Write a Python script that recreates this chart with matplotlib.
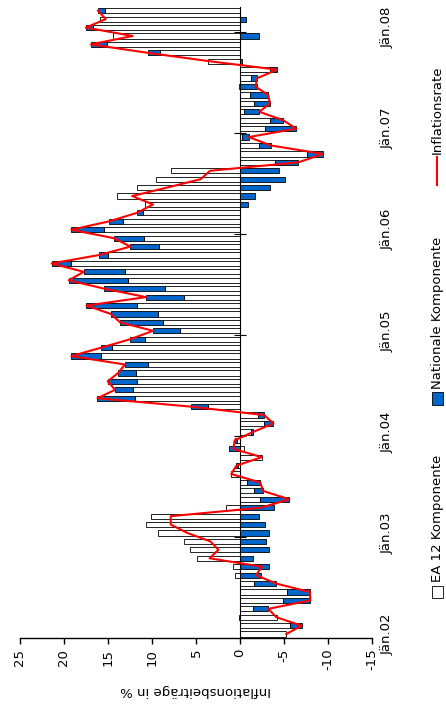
import matplotlib
matplotlib.use("Agg")
import matplotlib.pyplot as plt
import numpy as np
from matplotlib.transforms import blended_transform_factory
from matplotlib.patches import Rectangle
from matplotlib.lines import Line2D

plt.rcParams['font.family'] = ['DejaVu Sans']

# ---- data (monthly, Jän.02 .. Mär.08) ----
year_labels = ["Jän.02", "Jän.03", "Jän.04", "Jän.05", "Jän.06", "Jän.07", "Jän.08"]

ea12 = [-5.26, -5.68, -4.24, -1.48, -4.9, -5.37, -1.6, 0.57, 0.8, 4.9, 5.7, 6.36,
        9.27, 10.67, 10.06, 1.55, -2.27, -1.6, -0.83, 1.0, 0.2, -2.46, -0.45, 0.3,
        -1.3, -2.7, -2.0, 3.6, 11.9, 12.15, 11.7, 11.77, 10.5, 15.8, 14.57, 10.75,
        6.77, 8.74, 9.3, 11.7, 6.4, 8.48, 12.7, 13.05, 19.2, 15.0, 9.2, 10.9,
        15.4, 13.3, 11.0, 10.78, 13.96, 11.7, 9.57, 7.83, -3.93, -7.64, -2.16, -0.2,
        -2.84, -3.4, -0.4, -1.6, -1.13, 0.15, -1.29, -3.4, 3.63, 9.04, 15.06, 14.4,
        16.65, 15.9, 15.3]

national = [0.0, -1.32, 0.1, -1.74, -3.1, -2.57, -2.5, -2.4, -3.3, -1.44, -3.25, -3.0,
            -3.3, -2.8, -2.2, -3.9, -3.33, -1.0, -1.48, 0.0, 0.2, 0.0, 1.2, 0.3,
            -0.2, -1.1, -0.75, 1.97, 4.3, 2.04, 3.33, 2.08, 2.57, 3.37, 1.21, 1.74,
            3.1, 4.88, 5.37, 5.75, 4.28, 6.92, 6.77, 4.7, 2.2, 1.0, 3.25, 3.44,
            3.78, 1.55, 0.72, -0.9, -1.7, -3.4, -5.1, -4.43, -2.69, -1.82, -1.36, -0.8,
            -3.56, -1.5, -1.8, -1.8, -2.08, -1.9, -0.68, -0.83, -0.2, 1.44, 1.9, -2.2,
            0.87, -0.64, 0.83]

value_ticks = [25, 20, 15, 10, 5, 0, -5, -10, -15]
value_tick_labels = ["25", "20", "15", "10", "5", "0", "-5", "-10", "-15"]

legend_labels = ["EA 12 Komponente", "Nationale Komponente", "Inflationsrate"]
axis_title = "Inflationsbeiträge in %"

# ---- derived ----
ea = np.array(ea12)
nat = np.array(national)
total = ea + nat
pos = np.arange(len(ea))
nat_left = np.where(np.sign(nat) == np.sign(ea), ea, 0.0)
year_pos = np.arange(0, len(ea), 12)

W, H = 446, 708
fig = plt.figure(figsize=(W / 100, H / 100), dpi=100)
x0, x1 = 20, 372
ytop, ybot = 6.5, 638.3
ax = fig.add_axes([x0 / W, 1 - ybot / H, (x1 - x0) / W, (ybot - ytop) / H])

blue = "#0066cc"
bh = 0.62
ax.barh(pos, ea, left=0, height=bh, color="white", edgecolor="black", linewidth=0.6, zorder=2)
ax.barh(pos, nat, left=nat_left, height=bh, color=blue, edgecolor="black", linewidth=0.6, zorder=2)
ax.plot(total, pos, color="red", linewidth=1.5, zorder=4)

ax.set_xlim(25, -15)
ax.set_ylim(-0.5, len(ea) - 0.5)

for s in ["top", "right"]:
    ax.spines[s].set_visible(False)
ax.spines["left"].set_position(("data", 0))
ax.spines["left"].set_linewidth(0.8)
ax.spines["left"].set_zorder(3)
ax.spines["bottom"].set_linewidth(1.0)

ax.set_yticks(year_pos[1:] - 0.5)
ax.tick_params(axis="y", direction="inout", length=8, width=0.8, labelleft=False)

ax.set_xticks(value_ticks)
ax.set_xticklabels(value_tick_labels, rotation=90, ha="center", va="top", fontsize=9.5)
ax.tick_params(axis="x", direction="out", length=4.5, width=1.0, pad=3)

trans = blended_transform_factory(ax.transAxes, ax.transData)
for p, lab in zip(year_pos, year_labels):
    ax.text(1 + (381 - x1) / (x1 - x0), p, lab, transform=trans, rotation=90,
            ha="left", va="center", fontsize=9.5)

fig.text(196 / W, 1 - 690 / H, axis_title, rotation=180, ha="center", va="center", fontsize=9.5)

# legend (rotated)
lx = 437
fig.add_artist(Rectangle(((lx - 5.5) / W, 1 - 598 / H), 11 / W, 12 / H, transform=fig.transFigure,
                         facecolor="white", edgecolor="black", linewidth=0.6))
fig.text(lx / W, 1 - 582 / H, legend_labels[0], rotation=90, ha="center", va="bottom", fontsize=9.5)
fig.add_artist(Rectangle(((lx - 5.5) / W, 1 - 405 / H), 11 / W, 13 / H, transform=fig.transFigure,
                         facecolor=blue, edgecolor="black", linewidth=0.6))
fig.text(lx / W, 1 - 389 / H, legend_labels[1], rotation=90, ha="center", va="bottom", fontsize=9.5)
fig.add_artist(Line2D([lx / W, lx / W], [1 - 185 / H, 1 - 157 / H], transform=fig.transFigure,
                      color="red", linewidth=1.5))
fig.text(lx / W, 1 - 154 / H, legend_labels[2], rotation=90, ha="center", va="bottom", fontsize=9.5)

fig.savefig("out.png", dpi=100)
